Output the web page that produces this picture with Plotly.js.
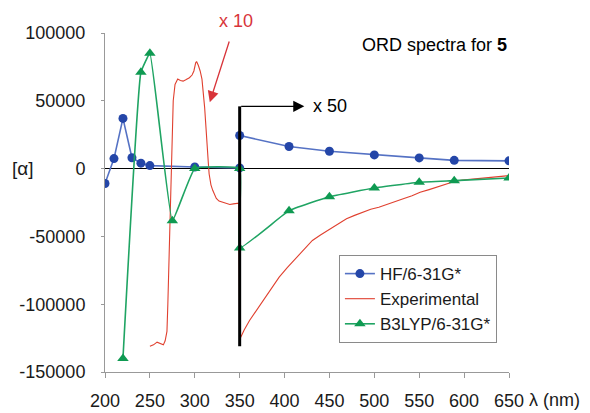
<!DOCTYPE html>
<html>
<head>
<meta charset="utf-8">
<script src="https://cdn.plot.ly/plotly-3.0.1.min.js"></script>
<style>html,body{margin:0;padding:0;background:#fff;}#chart{width:590px;height:413px;}</style>
</head>
<body>
<div id="chart"></div>
<script>
// HF/6-31G* (blue circles)
const hfX = [200, 210, 220, 230, 240, 250, 300, 350, 350, 405, 450, 500, 550, 589, 650];
const hfY = [-11000, 7400, 37000, 8000, 4000, 2200, 1200, 500, 24400, 16300, 12800, 10100, 7900, 6100, 5700];

// B3LYP/6-31G* (green triangles)
const b3X = [220, 240, 250, 275, 300, 350, 350, 405, 450, 500, 550, 589, 650];
const b3Y = [-140000, 71000, 85000, -38500, 0, 0, -58500, -31000, -20700, -14300, -10100, -8900, -6900];

// Experimental (red line; x10 below 350 nm, x50 above)
const expX = [250, 254, 258, 262, 265, 267, 269, 270, 271, 272, 273, 274, 276, 278, 281, 284, 287, 290, 294, 297, 299, 301, 302, 304, 306, 308, 309, 310, 311, 312, 313, 315, 316, 318, 320, 322, 324, 327, 331, 335, 339, 343, 347, 349,
  350, 355, 361, 368, 376, 385, 394, 403, 413, 422, 431, 440, 450, 460, 469, 478, 487, 496, 505, 515, 524, 533, 542, 551, 561, 570, 580, 589, 598, 608, 617, 627, 636, 645, 650];
const expY = [-131000, -130000, -128000, -129000, -130000, -127000, -120000, -100000, -75000, -40000, -10000, 13000, 50000, 62000, 66000, 65000, 64500, 65500, 67000, 69000, 72000, 78000, 79000, 76000, 72000, 66000, 60000, 52000, 45000, 35000, 22000, 5000, -4000, -12000, -16000, -19000, -22000, -24000, -25000, -26000, -26500, -26000, -26000, -25500,
  -126000, -119000, -112000, -105000, -98000, -89000, -80000, -73000, -66000, -59000, -53000, -49000, -45000, -41000, -37000, -34500, -32000, -30000, -28500, -26000, -24000, -22000, -20000, -17500, -15500, -13500, -11500, -9500, -8500, -7800, -7200, -6800, -6300, -5600, -5200];

const xTicks = [200, 250, 300, 350, 400, 450, 500, 550, 600, 650];
const yTicks = [100000, 50000, 0, -50000, -100000, -150000];
const yTickText = ["100000", "50000", "0", "-50000", "-100000", "-150000"];

const FONT = "Liberation Sans, Arial, sans-serif";

const traces = [
  {x: hfX, y: hfY, name: "HF/6-31G*", mode: "lines+markers", type: "scatter",
   line: {color: "#5572c4", width: 1.6},
   marker: {symbol: "circle", size: 9, color: "#2446a8"}},
  {x: expX, y: expY, name: "Experimental", mode: "lines", type: "scatter",
   line: {color: "#e0402f", width: 1.1}},
  {x: b3X, y: b3Y, name: "B3LYP/6-31G*", mode: "lines+markers", type: "scatter",
   line: {color: "#1fa463", width: 1.6, shape: "spline", smoothing: 0.3},
   marker: {symbol: "triangle-up", size: 10, color: "#0f9a52"}}
];

const layout = {
  width: 590, height: 413,
  margin: {l: 105, r: 81, t: 33, b: 41},
  paper_bgcolor: "#fff", plot_bgcolor: "#fff",
  font: {family: FONT, size: 18, color: "#1a1a1a"},
  showlegend: true,
  legend: {x: 0.579, y: 0.345, xanchor: "left", yanchor: "top",
           bordercolor: "#8a8a8a", borderwidth: 1, bgcolor: "#fff",
           font: {family: FONT, size: 17, color: "#1a1a1a"}, tracegroupgap: 0},
  xaxis: {range: [200, 650], tickvals: xTicks, showgrid: false, zeroline: false,
          showline: true, linecolor: "#999", linewidth: 1,
          ticks: "outside", ticklen: 5, tickcolor: "#999",
          tickfont: {family: FONT, size: 18, color: "#1a1a1a"}, ticklabelstandoff: 7},
  yaxis: {range: [-150000, 100000], tickvals: yTicks, ticktext: yTickText, showgrid: false,
          zeroline: true, zerolinecolor: "#000", zerolinewidth: 1.6,
          showline: true, linecolor: "#999", linewidth: 1,
          ticks: "outside", ticklen: 3, tickcolor: "#999",
          tickfont: {family: FONT, size: 18, color: "#1a1a1a"}, ticklabelstandoff: 12},
  shapes: [
    {type: "line", xref: "x", yref: "y", x0: 350, x1: 350, y0: 45900, y1: -131000,
     line: {color: "#000", width: 3}, layer: "above"}
  ],
  annotations: [
    {xref: "x", yref: "y", x: 422, y: 45900, ax: 350, ay: 45900, axref: "x", ayref: "y",
     showarrow: true, arrowhead: 2, arrowsize: 1.7, arrowwidth: 1.3, arrowcolor: "#000", text: ""},
    {xref: "x", yref: "y", x: 429, y: 45900, xanchor: "left", yanchor: "middle", showarrow: false,
     text: "x 50", font: {family: FONT, size: 18, color: "#000"}},
    {xref: "x", yref: "y", x: 316.7, y: 48900, ax: 338.9, ay: 94800, axref: "x", ayref: "y",
     showarrow: true, arrowhead: 2, arrowsize: 1.7, arrowwidth: 1.3, arrowcolor: "#d8343a", text: ""},
    {xref: "paper", yref: "paper", x: 0.324, y: 1.035, xanchor: "center", yanchor: "middle", showarrow: false,
     text: "x 10", font: {family: FONT, size: 18, color: "#d8343a"}},
    {xref: "paper", yref: "paper", x: 1.0, y: 0.965, xanchor: "right", yanchor: "middle", showarrow: false,
     text: "ORD spectra for <b>5</b>", font: {family: FONT, size: 18, color: "#000"}},
    {xref: "paper", yref: "y", x: -0.203, y: 0, xanchor: "center", yanchor: "middle", showarrow: false,
     text: "[α]", font: {family: FONT, size: 19, color: "#1a1a1a"}},
    {xref: "paper", yref: "paper", x: 1.045, y: -0.083, xanchor: "left", yanchor: "middle", showarrow: false,
     text: "λ (nm)", font: {family: FONT, size: 18, color: "#1a1a1a"}}
  ]
};

Plotly.newPlot("chart", traces, layout, {displayModeBar: false, staticPlot: true});
</script>
</body>
</html>
